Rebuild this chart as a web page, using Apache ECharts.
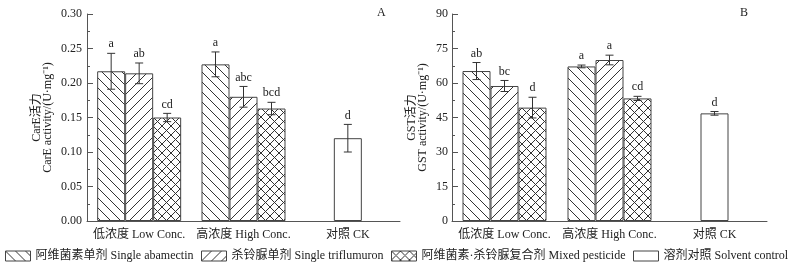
<!DOCTYPE html>
<html>
<head>
<meta charset="utf-8">
<script src="https://cdn.jsdelivr.net/npm/echarts@6/dist/echarts.min.js"></script>
<style>
  html, body { margin: 0; padding: 0; background: #fff; }
  #chart { width: 793px; height: 270px; }
</style>
</head>
<body>
<div id="chart"></div>
<script>
// 数据
const categories = ['低浓度 Low Conc.', '高浓度 High Conc.', '对照 CK'];
const seriesNames = [
    '阿维菌素单剂 Single abamectin',
    '杀铃脲单剂 Single triflumuron',
    '阿维菌素·杀铃脲复合剂 Mixed pesticide',
    '溶剂对照 Solvent control'
];

// CarE 活力：每种处理 [低浓度, 高浓度]
const careMean = [[0.217, 0.227], [0.214, 0.180], [0.150, 0.163]];
const careErr = [[0.026, 0.018], [0.015, 0.015], [0.006, 0.009]];
const careSig = [['a', 'a'], ['ab', 'abc'], ['cd', 'bcd']];
const careCk = [0.120, 0.020, 'd'];

// GST 活力
const gstMean = [[65.2, 67.2], [58.7, 70.0], [49.3, 53.3]];
const gstErr = [[3.7, 0.6], [2.4, 2.1], [4.5, 0.9]];
const gstSig = [['ab', 'a'], ['bc', 'a'], ['d', 'cd']];
const gstCk = [46.8, 0.8, 'd'];

const careTicks = [0, 0.30, 0.05];
const gstTicks = [0, 90, 15];

(function () {
    const FONT = "'Liberation Serif', 'Times New Roman', 'Noto Sans CJK SC', serif";
    const TXT = '#222';
    const LINE = '#555';
    const BAR_W = 28;
    const LEGEND_X = [5, 201, 391, 633];

    // 斜线填充
    function hatch(kind) {
        const s = kind === 'cross' ? 9 : 10;
        const c = document.createElement('canvas');
        c.width = s; c.height = s;
        const ctx = c.getContext('2d');
        ctx.fillStyle = '#fff';
        ctx.fillRect(0, 0, s, s);
        ctx.strokeStyle = '#333';
        ctx.lineWidth = 1;
        ctx.beginPath();
        for (let k = -1; k <= 1; k++) {
            if (kind === 'back' || kind === 'cross') { ctx.moveTo(k * s, 0); ctx.lineTo(k * s + s, s); }
            if (kind === 'fwd' || kind === 'cross') { ctx.moveTo(k * s, s); ctx.lineTo(k * s + s, 0); }
        }
        ctx.stroke();
        return { image: c, repeat: 'repeat' };
    }
    const fills = [hatch('back'), hatch('fwd'), hatch('cross'), '#fff'];

    function errorRenderer(offset, sigs) {
        return function (params, api) {
            const cat = api.value(0), mean = api.value(1), err = api.value(2);
            const x = api.coord([cat, mean])[0] + offset * BAR_W;
            const yTop = api.coord([cat, mean + err])[1];
            const yBot = api.coord([cat, mean - err])[1];
            const st = { stroke: '#333', lineWidth: 1 };
            return {
                type: 'group',
                children: [
                    { type: 'line', shape: { x1: x, y1: yTop, x2: x, y2: yBot }, style: st },
                    { type: 'line', shape: { x1: x - 4, y1: yTop, x2: x + 4, y2: yTop }, style: st },
                    { type: 'line', shape: { x1: x - 4, y1: yBot, x2: x + 4, y2: yBot }, style: st },
                    {
                        type: 'text',
                        style: {
                            text: sigs[params.dataIndex], x: x, y: yTop - 3,
                            align: 'center', verticalAlign: 'bottom',
                            font: '12px ' + FONT, fill: TXT
                        }
                    }
                ]
            };
        };
    }

    function panelSeries(g, means, errs, sigs, ck) {
        const xMain = g * 2, xHid = g * 2 + 1;
        const out = [];
        for (let i = 0; i < 3; i++) {
            out.push({
                type: 'bar', name: seriesNames[i], xAxisIndex: xMain, yAxisIndex: g,
                barWidth: BAR_W, barGap: '0%',
                itemStyle: { color: fills[i], borderColor: '#444', borderWidth: 1 },
                data: [means[i][0], means[i][1], '-']
            });
        }
        out.push({
            type: 'bar', name: seriesNames[3], xAxisIndex: xHid, yAxisIndex: g,
            barWidth: BAR_W,
            itemStyle: { color: fills[3], borderColor: '#444', borderWidth: 1 },
            data: ['-', '-', ck[0]]
        });
        for (let i = 0; i < 3; i++) {
            out.push({
                type: 'custom', xAxisIndex: xMain, yAxisIndex: g, z: 5,
                encode: { x: 0, y: 1 },
                renderItem: errorRenderer(i - 1, sigs[i]),
                data: [[0, means[i][0], errs[i][0]], [1, means[i][1], errs[i][1]]]
            });
        }
        out.push({
            type: 'custom', xAxisIndex: xHid, yAxisIndex: g, z: 5,
            encode: { x: 0, y: 1 },
            renderItem: errorRenderer(0, [ck[2]]),
            data: [[2, ck[0], ck[1]]]
        });
        return out;
    }

    function xAxes(g) {
        return [{
            type: 'category', gridIndex: g, data: categories,
            axisLine: { lineStyle: { color: LINE } },
            axisTick: { show: false },
            axisLabel: { interval: 0, margin: 8, fontSize: 12, fontFamily: FONT, color: TXT }
        }, {
            type: 'category', gridIndex: g, data: categories, show: false
        }];
    }

    function yAxis(g, ticks, name, gap, margin, digits) {
        return {
            type: 'value', gridIndex: g, min: ticks[0], max: ticks[1], interval: ticks[2],
            name: name, nameLocation: 'middle', nameGap: gap,
            nameTextStyle: { fontSize: 12, lineHeight: 11, fontFamily: FONT, color: TXT },
            axisLine: { show: true, lineStyle: { color: LINE } },
            axisTick: { show: true, inside: true, length: 6, lineStyle: { color: LINE } },
            minorTick: { show: true, splitNumber: 2, length: 3, lineStyle: { color: LINE } },
            splitLine: { show: false },
            axisLabel: {
                margin: margin, fontSize: 12, fontFamily: FONT, color: TXT,
                formatter: v => v.toFixed(digits)
            }
        };
    }

    // 每个图例单独定位，避免换行
    const legends = seriesNames.map((n, i) => ({
        data: [n], left: LEGEND_X[i], top: 250, padding: 0,
        icon: 'rect', itemWidth: 25, itemHeight: 10,
        textStyle: { fontSize: 12, fontFamily: FONT, color: TXT },
        itemStyle: { borderColor: '#444', borderWidth: 1 }
    }));

    const chart = echarts.init(document.getElementById('chart'));
    chart.setOption({
        animation: false,
        backgroundColor: '#fff',
        title: [
            { text: 'A', left: 377, top: 7, padding: 0, textStyle: { fontSize: 12, fontWeight: 'normal', fontFamily: FONT, color: TXT } },
            { text: 'B', left: 740, top: 7, padding: 0, textStyle: { fontSize: 12, fontWeight: 'normal', fontFamily: FONT, color: TXT } }
        ],
        legend: legends,
        grid: [
            { left: 87, top: 14, width: 313, height: 207 },
            { left: 452, top: 14, width: 315, height: 207 }
        ],
        xAxis: xAxes(0).concat(xAxes(1)),
        yAxis: [
            yAxis(0, careTicks, 'CarE活力\nCarE activity/(U·mg⁻¹)', 34, 5, 2),
            yAxis(1, gstTicks, 'GST活力\nGST activity/(U·mg⁻¹)', 24, 4, 0)
        ],
        series: panelSeries(0, careMean, careErr, careSig, careCk)
            .concat(panelSeries(1, gstMean, gstErr, gstSig, gstCk))
    });
})();
</script>
</body>
</html>
